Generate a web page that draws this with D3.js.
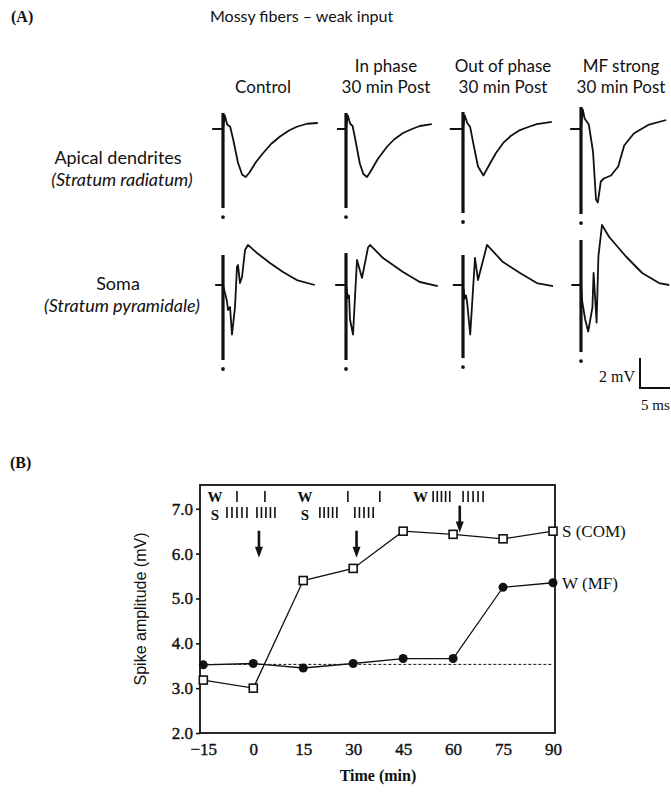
<!DOCTYPE html>
<head>
<meta charset="utf-8">
<style>
    body { margin:0; background:#fff; }
    text { fill:#111; }
    .sans { font-family: Lato, sans-serif; }
    .serif { font-family: "Liberation Serif", serif; }
</style>
<script src="https://d3js.org/d3.v7.min.js"></script>
</head>
<body>
<script>
// ---- Panel A data: time in ms after stimulus, value in mV from baseline
var colHeads = [["", "Control"], ["In phase", "30 min Post"], ["Out of phase", "30 min Post"], ["MF strong", "30 min Post"]];
var rowHeads = [["Apical dendrites", "(Stratum radiatum)"], ["Soma", "(Stratum pyramidale)"]];

var apicalControl = [[-1.8,0],[0,0],[0.3,0.9],[0.7,0.3],[1.2,0.15],[1.7,-0.7],[2.5,-2.25],[3.2,-3.05],[3.8,-3.2],[4.4,-2.9],[5.5,-2.2],[6.7,-1.6],[8,-1.0],[9.5,-0.5],[11,-0.1],[12.3,0.15],[14,0.35],[15.8,0.4]];
var apicalInPhase = [[-1.5,0],[0,0],[0.3,0.9],[0.7,0.35],[1.1,0.2],[1.6,-0.8],[2.3,-2.3],[2.9,-3.0],[3.5,-3.2],[4,-2.9],[5.3,-2.0],[6.8,-1.2],[8,-0.7],[9.5,-0.27],[11,0],[12.3,0.2],[14.3,0.33]];
var apicalOutPhase = [[-2.2,0],[0,0],[0.3,0.9],[0.7,0.4],[1.2,0.13],[1.7,-0.93],[2.5,-2.5],[3.4,-3.1],[4.5,-2.3],[5.5,-1.6],[6.7,-0.93],[8,-0.45],[9.5,-0.07],[11,0.15],[12.3,0.33],[14.8,0.47]];
var apicalStrong = [[-1.8,0],[0,0],[0.3,1.3],[0.6,0.7],[1.3,0.3],[2.0,-1.5],[2.5,-4.7],[2.8,-4.9],[3.3,-3.5],[3.8,-3.3],[5,-3.1],[6.2,-2.5],[7.2,-1.1],[8.8,-0.3],[11.2,0.27],[14.2,0.6]];

var somaControl = [[-1.3,0],[0,0],[0.67,-1.1],[0.83,-1.67],[1.17,-1.47],[1.5,-3.3],[2,-1.47],[2.33,1.2],[2.5,1.33],[2.83,0.13],[3.17,0.53],[3.67,2.33],[4.17,2.67],[5.67,2.13],[7.83,1.47],[10,0.87],[12.3,0.33],[15.3,0]];
var somaInPhase = [[-1.8,0],[0,0],[0.33,-0.87],[0.5,-0.7],[0.67,-2.3],[1.17,-3.3],[1.83,1.67],[2.67,0.47],[3.67,2.5],[4,2.67],[6.17,1.8],[9.5,0.87],[12.3,0.2],[15.3,-0.07]];
var somaOutPhase = [[-1.7,0],[0,0],[0.3,-0.9],[0.5,-0.7],[0.7,-1.2],[1.2,-3.3],[2,1.8],[2.5,0.33],[4,2.67],[6.67,1.53],[9.5,0.8],[12.3,0.13],[15,-0.07]];
var somaStrong = [[-1.6,0],[0,0],[0.2,-1.1],[0.7,-2.3],[1.2,-3.1],[1.9,-1.5],[2.1,0.8],[2.6,-2.5],[2.9,1.9],[3.5,4.0],[4.7,3.2],[7.5,1.9],[10.2,0.8],[13,0.13],[14.7,0]];

var traces = [[apicalControl, apicalInPhase, apicalOutPhase, apicalStrong],
              [somaControl, somaInPhase, somaOutPhase, somaStrong]];
// stimulus artifact extent [top, bottom] in mV
var stimExtent = [[[1.07,-5.27],[1.07,-5.27],[1.13,-5.6],[1.47,-5.67]],
                  [[2,-5],[2.13,-5],[2,-4.87],[3,-4.47]]];

// ---- Panel B data
var times = [-15, 0, 15, 30, 45, 60, 75, 90];
var strongCOM = [3.18, 3.0, 5.4, 5.67, 6.5, 6.43, 6.33, 6.5];
var weakMF = [3.52, 3.55, 3.45, 3.55, 3.66, 3.66, 5.25, 5.35];
var controlLevel = 3.53;
var xTicks = [-15, 0, 15, 30, 45, 60, 75, 90];
var yTicks = [2, 3, 4, 5, 6, 7];
var arrowTimes = [1.7, 31, 62];
var arrowTops = [6.51, 6.51, 7.07];
var protoLabels = [-11.5, 15.5, 50.2];
var wSingles = [-4.9, 3.5, 28.4, 38];
var wBursts = [[54, 59], [63, 69]];
var sBursts = [[-7.9, -1.9], [1.1, 6.5], [20, 25.1], [30.5, 36]];

var svg = d3.select("body").append("svg")
    .attr("width", 671)
    .attr("height", 793);

// ================= Panel A
svg.append("text").attr("class", "serif").attr("x", 11).attr("y", 22)
    .style("font-size", "16px").style("font-weight", "bold").text("(A)");
svg.append("text").attr("class", "sans").attr("x", 210).attr("y", 22)
    .style("font-size", "16px").text("Mossy fibers \u2013 weak input");

var stimX = [223, 346, 463, 581];
var base = [129, 285];
var msPx = 6, mvPx = 15;

colHeads.forEach(function(h, i) {
    var cx = stimX[i] + 40;
    svg.append("text").attr("class", "sans").attr("x", cx).attr("y", 72)
        .attr("text-anchor", "middle").style("font-size", "17px").text(h[0]);
    svg.append("text").attr("class", "sans").attr("x", cx).attr("y", 93)
        .attr("text-anchor", "middle").style("font-size", "17px").text(h[1]);
});

rowHeads.forEach(function(h, r) {
    var y0 = r == 0 ? 164 : 290;
    svg.append("text").attr("class", "sans").attr("x", 118).attr("y", y0)
        .attr("text-anchor", "middle").style("font-size", "18px").text(h[0]);
    svg.append("text").attr("class", "sans").attr("x", 122).attr("y", y0 + 22)
        .attr("text-anchor", "middle").style("font-size", "18px").style("font-style", "italic").text(h[1]);
});

traces.forEach(function(row, r) {
    row.forEach(function(tr, c) {
        var xs = d3.scaleLinear().domain([0, 1]).range([stimX[c], stimX[c] + msPx]);
        var ys = d3.scaleLinear().domain([0, 1]).range([base[r], base[r] - mvPx]);
        var line = d3.line().x(function(d) { return xs(d[0]); }).y(function(d) { return ys(d[1]); });
        svg.append("path")
            .datum(tr)
            .attr("fill", "none")
            .attr("stroke", "#111")
            .attr("stroke-width", 1.8)
            .attr("stroke-linejoin", "round")
            .attr("d", line);
        var st = stimExtent[r][c];
        svg.append("line")
            .attr("x1", xs(0)).attr("x2", xs(0))
            .attr("y1", ys(st[0])).attr("y2", ys(st[1]))
            .attr("stroke", "#111").attr("stroke-width", 3.2);
        svg.append("circle")
            .attr("cx", xs(0)).attr("cy", ys(st[1]) + 9)
            .attr("r", 1.9).attr("fill", "#111");
    });
});

// scale bar 2 mV / 5 ms
var sbX = 640, sbY = 388;
svg.append("path")
    .attr("d", "M" + sbX + "," + (sbY - 2 * mvPx) + "V" + sbY + "H" + (sbX + 5 * msPx))
    .attr("fill", "none").attr("stroke", "#111").attr("stroke-width", 2);
svg.append("text").attr("class", "serif").attr("x", sbX - 5).attr("y", sbY - 6)
    .attr("text-anchor", "end").style("font-size", "16px").text("2 mV");
svg.append("text").attr("class", "serif").attr("x", sbX + 1).attr("y", sbY + 22)
    .style("font-size", "15px").text("5 ms");

// ================= Panel B
svg.append("text").attr("class", "serif").attr("x", 10).attr("y", 468)
    .style("font-size", "16px").style("font-weight", "bold").text("(B)");

var x = d3.scaleLinear().domain([-16, 90.6]).range([200, 555]);
var y = d3.scaleLinear().domain([2, 7.53]).range([733, 485]);

var gB = svg.append("g");

// frame
gB.append("rect")
    .attr("x", x.range()[0]).attr("y", y.range()[1])
    .attr("width", x.range()[1] - x.range()[0])
    .attr("height", y.range()[0] - y.range()[1])
    .attr("fill", "none").attr("stroke", "#111").attr("stroke-width", 1.8);

var yAxis = gB.append("g").attr("transform", "translate(200,0)")
    .call(d3.axisLeft(y).tickValues(yTicks).tickFormat(d3.format(".1f")).tickSize(4).tickPadding(3));
var xAxis = gB.append("g").attr("transform", "translate(0,733)")
    .call(d3.axisBottom(x).tickValues(xTicks).tickFormat(function(d) { return d < 0 ? "\u2212" + (-d) : d; }).tickSize(0).tickPadding(10));
[yAxis, xAxis].forEach(function(a) {
    a.select(".domain").remove();
    a.selectAll("line").attr("stroke", "#111").attr("stroke-width", 1.6);
    a.selectAll("text").attr("class", "serif").style("font-size", "17px")
        .attr("fill", "#111").attr("stroke", "#111").attr("stroke-width", 0.4);
});

gB.append("text").attr("x", 0).attr("y", 0)
    .attr("transform", "translate(146,609) rotate(-90)")
    .attr("text-anchor", "middle")
    .style("font-family", "'Liberation Sans', Arial, sans-serif").style("font-size", "16px")
    .text("Spike amplitude (mV)");
gB.append("text").attr("class", "serif").attr("x", 378).attr("y", 781)
    .attr("text-anchor", "middle").style("font-size", "16px").style("font-weight", "bold")
    .text("Time (min)");

// control level dashed line
gB.append("line")
    .attr("x1", x(-15)).attr("x2", x(90))
    .attr("y1", y(controlLevel)).attr("y2", y(controlLevel))
    .attr("stroke", "#111").attr("stroke-width", 1).attr("stroke-dasharray", "3,2");

var lineS = d3.line().x(function(d, i) { return x(times[i]); }).y(function(d) { return y(d); });
gB.append("path").datum(strongCOM).attr("fill", "none").attr("stroke", "#111").attr("stroke-width", 1.3).attr("d", lineS);
gB.append("path").datum(weakMF).attr("fill", "none").attr("stroke", "#111").attr("stroke-width", 1.3).attr("d", lineS);

gB.selectAll("circle.w").data(weakMF).enter().append("circle")
    .attr("class", "w")
    .attr("cx", function(d, i) { return x(times[i]); })
    .attr("cy", function(d) { return y(d); })
    .attr("r", 4.5).attr("fill", "#111");
gB.selectAll("rect.s").data(strongCOM).enter().append("rect")
    .attr("class", "s")
    .attr("x", function(d, i) { return x(times[i]) - 4; })
    .attr("y", function(d) { return y(d) - 4; })
    .attr("width", 8).attr("height", 8)
    .attr("fill", "#fff").attr("stroke", "#111").attr("stroke-width", 1.6);

gB.append("text").attr("class", "serif").attr("x", x(90) + 9).attr("y", y(strongCOM[7]) + 6)
    .style("font-size", "17px").text("S (COM)");
gB.append("text").attr("class", "serif").attr("x", x(90) + 9).attr("y", y(weakMF[7]) + 6)
    .style("font-size", "17px").text("W (MF)");

// arrows
arrowTimes.forEach(function(t, i) {
    var ax = x(t), y1 = y(arrowTops[i]), y2 = y(arrowTops[i] - 0.6);
    gB.append("line").attr("x1", ax).attr("x2", ax).attr("y1", y1).attr("y2", y2 - 9)
        .attr("stroke", "#111").attr("stroke-width", 2.6);
    gB.append("path")
        .attr("d", "M" + (ax - 4) + "," + (y2 - 11) + "L" + (ax + 4) + "," + (y2 - 11) + "L" + ax + "," + y2 + "Z")
        .attr("fill", "#111");
});

// stimulation protocol
var wRow = 497, sRow = 513;
protoLabels.forEach(function(t, i) {
    gB.append("text").attr("class", "serif").attr("x", x(t)).attr("y", wRow + 5)
        .attr("text-anchor", "middle").style("font-size", "15px").style("font-weight", "bold").text("W");
    if (i < 2) gB.append("text").attr("class", "serif").attr("x", x(t)).attr("y", sRow + 7)
        .attr("text-anchor", "middle").style("font-size", "15px").style("font-weight", "bold").text("S");
});
function bar(t, yc) {
    gB.append("line").attr("x1", x(t)).attr("x2", x(t)).attr("y1", yc - 6).attr("y2", yc + 5)
        .attr("stroke", "#111").attr("stroke-width", 1.6);
}
wSingles.forEach(function(t) { bar(t, wRow); });
function burst(b, yc) {
    d3.range(5).forEach(function(k) { bar(b[0] + k * (b[1] - b[0]) / 4, yc); });
}
wBursts.forEach(function(b) { burst(b, wRow); });
sBursts.forEach(function(b) { burst(b, sRow); });
</script>
</body>
